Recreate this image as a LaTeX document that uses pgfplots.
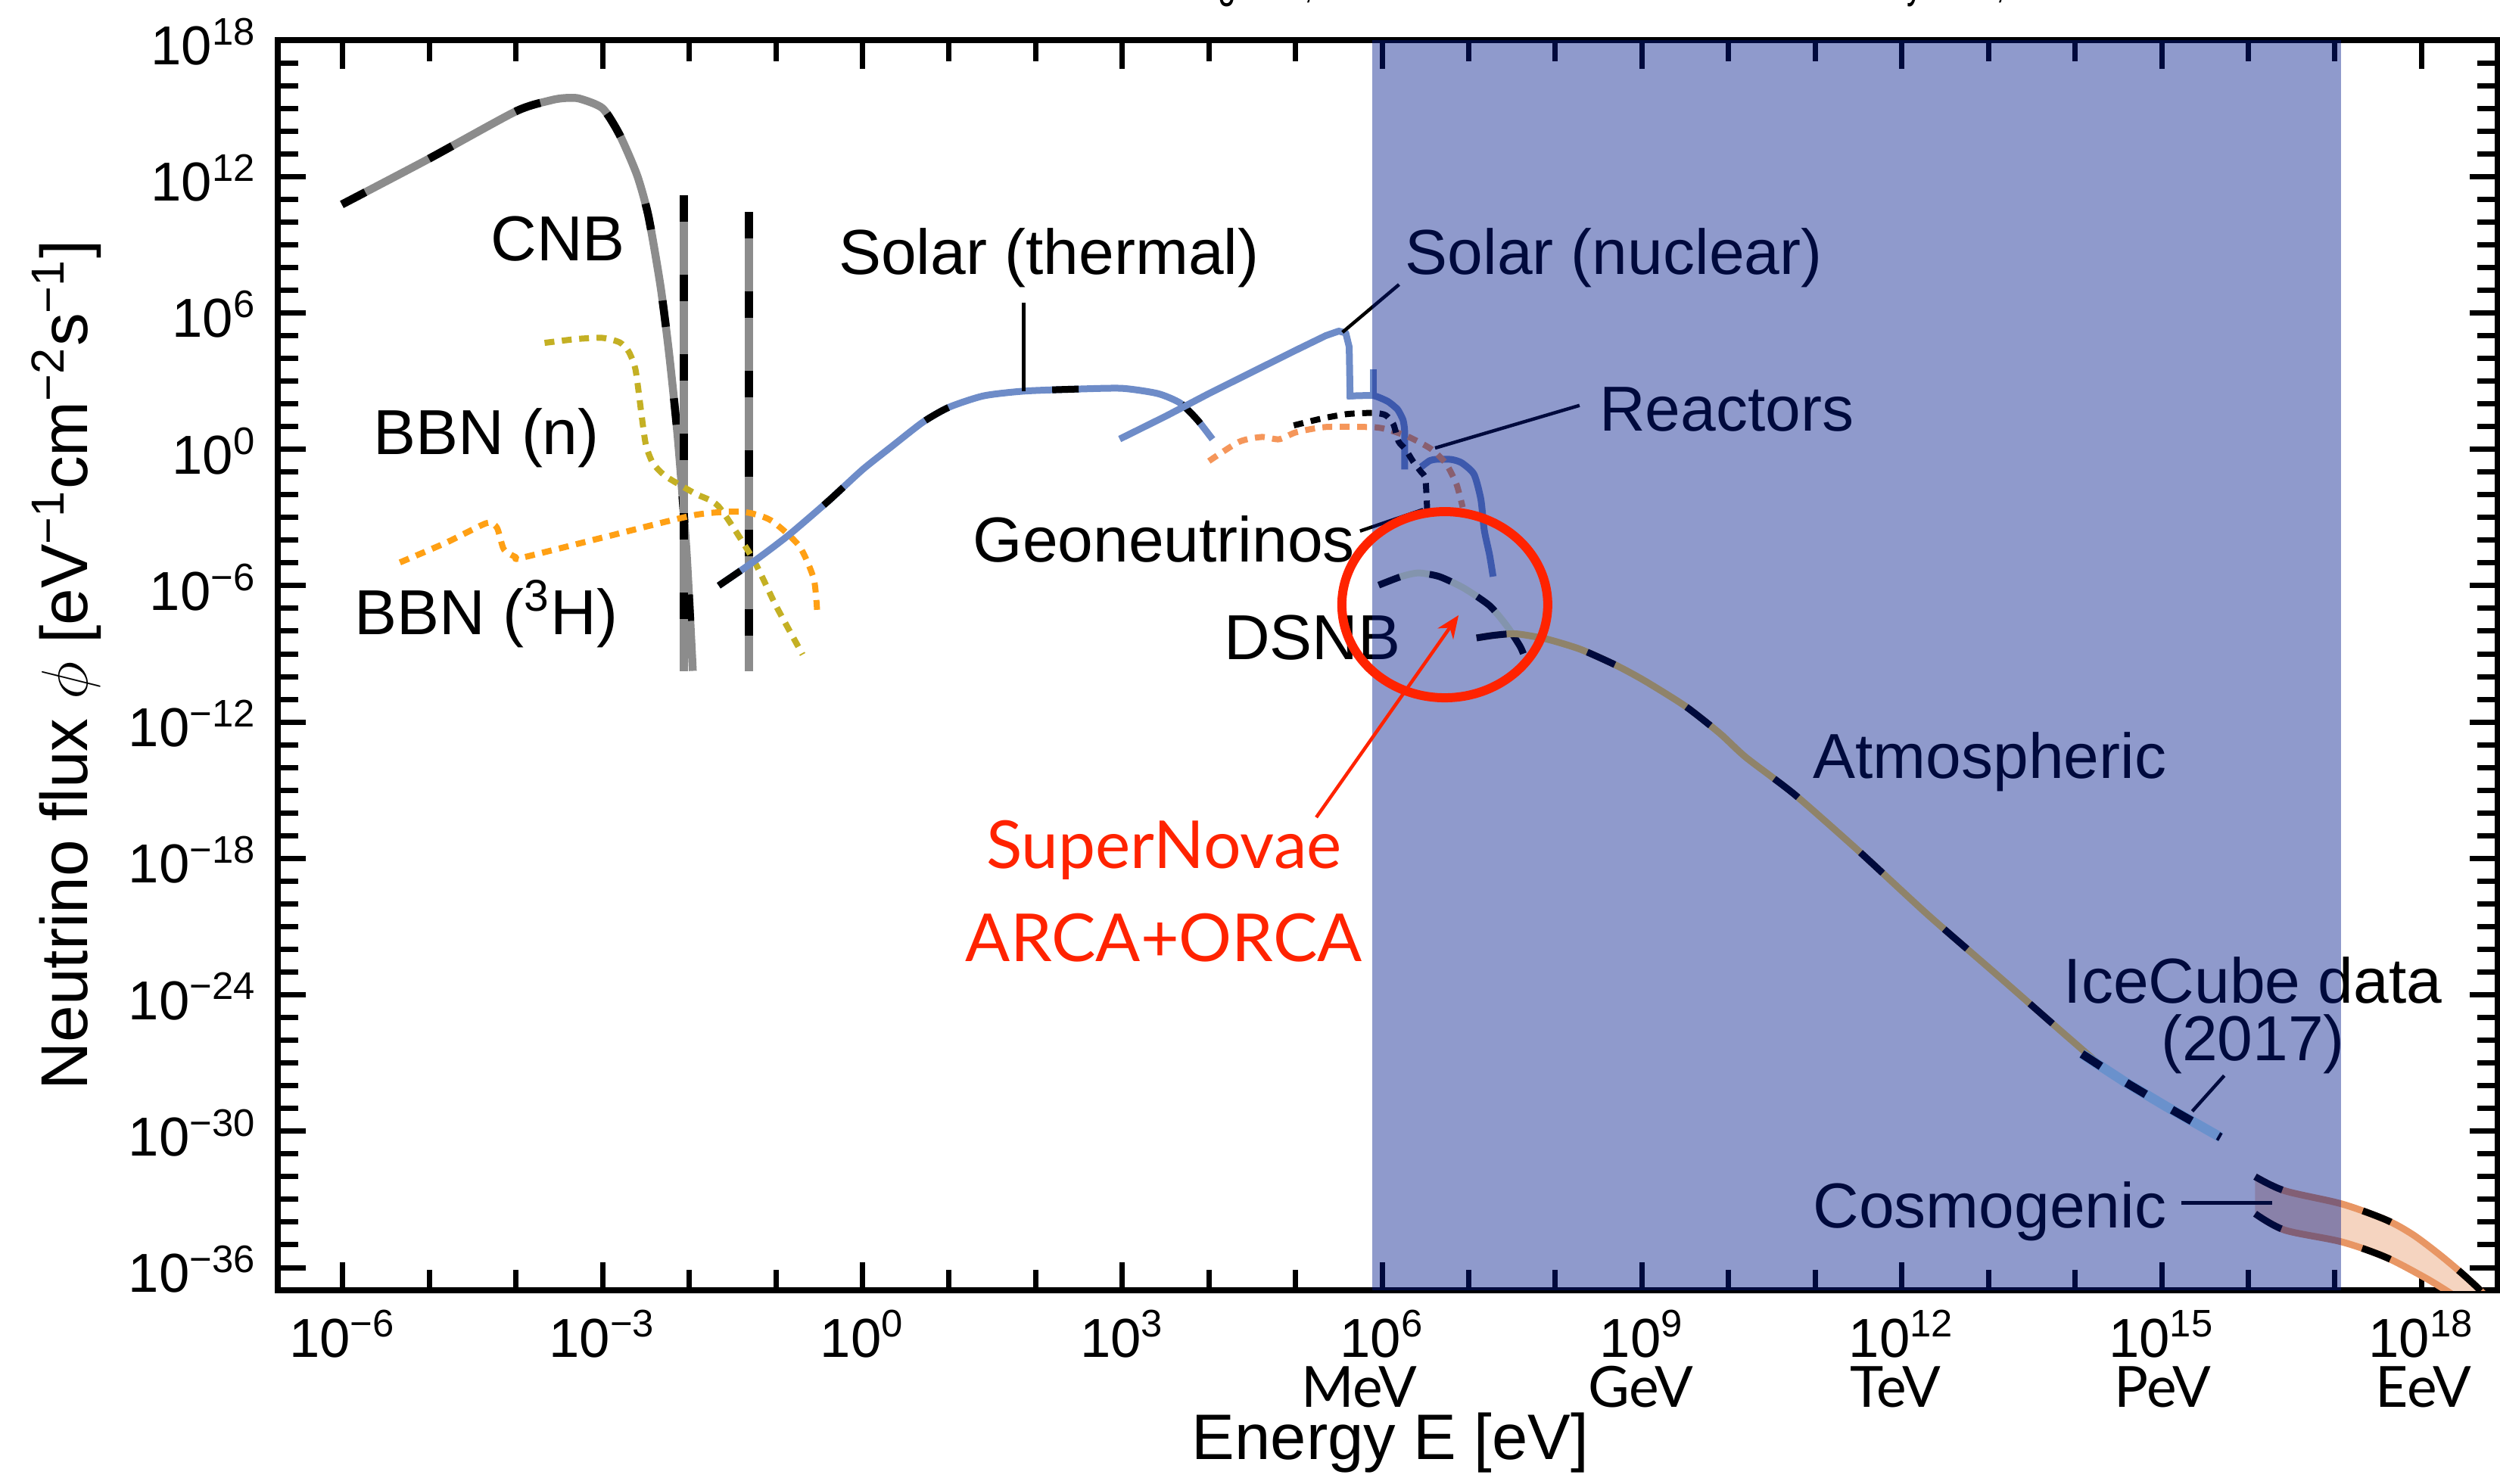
\documentclass[border=0pt]{standalone}
\usepackage{pgfplots}
\pgfplotsset{compat=1.18}
\usepackage{pgfplotstable}
\usepackage{fontspec}
\setmainfont{Liberation Sans}
\newfontfamily\lato{Lato}
\usetikzlibrary{arrows.meta}
\definecolor{cnbgray}{RGB}{140,140,140}
\definecolor{bbnn}{RGB}{196,176,36}
\definecolor{bbnh}{RGB}{255,160,20}
\definecolor{solar}{RGB}{110,140,200}
\definecolor{reac}{RGB}{245,150,90}
\definecolor{dsnb}{RGB}{235,245,200}
\definecolor{atmo}{RGB}{255,215,80}
\definecolor{icec}{RGB}{190,240,255}
\definecolor{cosedge}{RGB}{232,150,100}
\definecolor{cosfill}{RGB}{245,212,192}
\definecolor{ovl}{RGB}{0,25,140}
\definecolor{snred}{RGB}{255,35,0}
\newcommand{\lbl}{\fontsize{16.8}{19}\selectfont}
\newcommand{\tk}[1]{\mbox{10\textsuperscript{#1}}}

\pgfplotstableread{
x y
9.77e-7 5.89e10
9.77e-6 5.89e12
1e-4 7.41e14
2.51e-4 2.24e15
3.63e-4 2.82e15
5.37e-4 2.69e15
1e-3 1e15
1.58e-3 6.61e13
2.51e-3 1.10e12
3.39e-3 1.74e10
4.68e-3 1.38e7
5.89e-3 1.38e4
7.41e-3 2.75
9.33e-3 2.82e-5
1.10e-2 1.78e-10
}\cnbtab

\pgfplotstableread{
x y
2.14e-4 4.79e4
5.01e-4 7.08e4
1e-3 7.94e4
1.58e-3 5.01e4
2.0e-3 2.0e4
2.40e-3 3.16e3
2.82e-3 31.6
3.16e-3 1.58
3.80e-3 0.251
5.37e-3 6.46e-2
1.17e-2 1.12e-2
2.19e-2 3.02e-3
5.50e-2 1.41e-5
0.1 1.35e-7
0.204 9.33e-10
}\bbnntab

\pgfplotstableread{
x y
4.57e-6 1.05e-5
1.58e-5 7.94e-5
4.57e-5 5.62e-4
6.03e-5 3.55e-4
7.24e-5 3.98e-5
1e-4 1.78e-5
1.15e-4 1.66e-5
1.17e-3 1.51e-4
1.17e-2 1.29e-3
4.07e-2 1.78e-3
8.71e-2 7.59e-4
0.186 5.62e-5
0.275 1.91e-6
0.302 5.01e-8
}\bbnhtab

\pgfplotstableread{
x y
2.19e-2 1e-6
5.50e-2 1.12e-5
0.138 1.58e-4
0.398 5.01e-3
1 0.126
2.14 1.26
5.01 15.8
10 70.8
25.1 224
74.1 363
316 447
1000 479
2570 282
4680 107
7410 19.1
1.10e4 2.75
}\soltab

\pgfplotstableread{
x y
933 2.82
3160 28.2
1e4 282
3.16e4 2510
1e5 2.24e4
2.24e5 1e5
3.16e5 1.58e5
3.80e5 1.32e5
4.17e5 3.16e4
4.27e5 158
}\nucAtab

\pgfplotstableread{
x y
3.98e5 219
7.94e5 229
1.17e6 126
1.51e6 56.2
1.74e6 20.0
1.82e6 6.31
1.82e6 0.129
}\nucBtab

\pgfplotstableread{
x y
2.82e6 0.166
3.55e6 0.316
4.27e6 0.363
6.31e6 0.355
8.32e6 0.251
1.15e7 7.94e-2
1.38e7 6.31e-3
1.51e7 2.82e-4
1.74e7 2.24e-5
1.91e7 2.51e-6
}\nucCtab

\pgfplotstableread{
x y
1e4 0.302
2.24e4 2.14
4.07e4 3.47
6.46e4 2.75
1.02e5 5.62
2.24e5 9.55
7.94e5 9.33
1.20e6 7.08
2.04e6 3.47
3.72e6 1
5.50e6 0.224
7.24e6 2.82e-2
8.51e6 2.82e-3
}\reactab

\pgfplotstableread{
x y
9.55e4 11.2
2.0e5 22.4
3.98e5 35.5
7.94e5 39.8
1.10e6 31.6
1.35e6 12.6
1.55e6 2.19
1.86e6 1
2.29e6 0.282
2.82e6 0.1
3.16e6 5.01e-2
3.31e6 2.24e-3
}\geotab

\pgfplotstableread{
x y
9.12e5 1.05e-6
1.66e6 2.51e-6
2.63e6 3.63e-6
4.57e6 2.51e-6
8.71e6 7.94e-7
1.74e7 1.32e-7
2.75e7 1.70e-8
3.89e7 2.24e-9
4.27e7 1.02e-9
}\dsnbtab

\pgfplotstableread{
x y
1.23e7 5.01e-9
2.0e7 6.61e-9
3.55e7 7.59e-9
7.94e7 4.47e-9
1.95e8 1.58e-9
5.01e8 3.16e-10
1.07e9 6.61e-11
3.16e9 5.01e-12
7.94e9 3.16e-13
1.58e10 2.82e-14
5.75e10 6.61e-16
3.09e11 2.34e-18
2.0e12 3.31e-21
1.10e13 1.17e-23
6.76e13 2.69e-26
2.45e14 3.80e-28
}\atmotab

\pgfplotstableread{
x y
1.20e14 2.51e-27
3.72e14 1.51e-28
1.15e15 1.17e-29
4.79e15 5.37e-31
}\icetab

\pgfplotstableread{
x y
1.20e16 1e-32
2.63e16 2.40e-33
1.20e17 6.31e-34
3.89e17 1.26e-34
7.94e17 2.82e-35
1.58e18 3.98e-36
2.82e18 6.31e-37
4.37e18 1.38e-37
5.62e18 5.01e-38
}\costoptab

\pgfplotstableread{
x y
1.20e16 2.34e-34
2.63e16 4.47e-35
1.20e17 1.35e-35
3.89e17 2.82e-36
1.07e18 3.80e-37
1.86e18 1.07e-37
2.51e18 5.01e-38
}\cosbottab

\begin{document}
\begin{tikzpicture}
\begin{axis}[
  at={(0,0)}, anchor=south west,
  xmode=log, ymode=log,
  scale only axis, width=586.6pt, height=330.4pt,
  xmin=1.778e-7, xmax=7.59e18,
  ymin=1e-37, ymax=1e18,
  clip mode=individual,
  xtick={1e-6,1e-3,1,1e3,1e6,1e9,1e12,1e15,1e18},
  xticklabels={\tk{−6},\tk{−3},\tk{0},\tk{3},\tk{6},\tk{9},\tk{12},\tk{15},\tk{18}},
  minor xtick={1e-6,1e-5,1e-4,1e-3,1e-2,1e-1,1,1e1,1e2,1e3,1e4,1e5,1e6,1e7,1e8,1e9,1e10,1e11,1e12,1e13,1e14,1e15,1e16,1e17,1e18},
  ytick={1e-36,1e-30,1e-24,1e-18,1e-12,1e-6,1,1e6,1e12,1e18},
  yticklabels={\tk{−36},\tk{−30},\tk{−24},\tk{−18},\tk{−12},\tk{−6},\tk{0},\tk{6},\tk{12},\tk{18}},
  minor ytick={1e-37,1e-36,1e-35,1e-34,1e-33,1e-32,1e-31,1e-30,1e-29,1e-28,1e-27,1e-26,1e-25,1e-24,1e-23,1e-22,1e-21,1e-20,1e-19,1e-18,1e-17,1e-16,1e-15,1e-14,1e-13,1e-12,1e-11,1e-10,1e-9,1e-8,1e-7,1e-6,1e-5,1e-4,1e-3,1e-2,1e-1,1,1e1,1e2,1e3,1e4,1e5,1e6,1e7,1e8,1e9,1e10,1e11,1e12,1e13,1e14,1e15,1e16,1e17},
  tick align=inside,
  major tick length=7.5pt, minor tick length=5.5pt,
  every tick/.style={black, line width=1.4pt},
  every minor tick/.style={black, line width=1.4pt},
  axis line style={line width=1.6pt},
  xticklabel style={font=\fontsize{14.5}{16}\selectfont, anchor=base, yshift=-17.6pt, inner sep=0pt},
  yticklabel style={font=\fontsize{14.5}{16}\selectfont, anchor=base east, xshift=-5.4pt, yshift=-6.5pt, inner sep=0pt},
  every axis plot/.append style={line join=round, line cap=butt},
]

% Cosmogenic band
\addplot[fill=cosfill, draw=none] coordinates {
(1.20e16,1e-32) (2.63e16,2.40e-33) (1.20e17,6.31e-34) (3.89e17,1.26e-34) (7.94e17,2.82e-35) (1.58e18,3.98e-36) (2.82e18,6.31e-37) (4.37e18,1.38e-37) (5.62e18,5.01e-38)
(2.51e18,5.01e-38) (1.86e18,1.07e-37) (1.07e18,3.80e-37) (3.89e17,2.82e-36) (1.20e17,1.35e-35) (2.63e16,4.47e-35) (1.20e16,2.34e-34)
} -- cycle;
\addplot[cosedge, line width=1.8pt, smooth] table {\costoptab};
\addplot[cosedge, line width=1.8pt, smooth] table {\cosbottab};
\addplot[black, line width=1.8pt, smooth, dash pattern=on 8pt off 22pt] table {\costoptab};
\addplot[black, line width=1.8pt, smooth, dash pattern=on 8pt off 22pt] table {\cosbottab};

% CNB
\addplot[cnbgray, line width=2.1pt, smooth, tension=0.4] table {\cnbtab};
\addplot[black, line width=2.1pt, smooth, tension=0.4, dash pattern=on 7pt off 19pt] table {\cnbtab};
\addplot[cnbgray, line width=2.2pt] coordinates {(8.71e-3,1.48e11) (8.71e-3,1.78e-10)};
\addplot[black, line width=2.2pt, dash pattern=on 7pt off 14pt] coordinates {(8.71e-3,1.48e11) (8.71e-3,1.78e-10)};
\addplot[cnbgray, line width=2.2pt] coordinates {(4.90e-2,2.69e10) (4.90e-2,1.78e-10)};
\addplot[black, line width=2.2pt, dash pattern=on 7pt off 14pt] coordinates {(4.90e-2,2.69e10) (4.90e-2,1.78e-10)};

% BBN
\addplot[bbnn, line width=1.6pt, smooth, tension=0.4, dash pattern=on 2.6pt off 2pt] table {\bbnntab};
\addplot[bbnh, line width=1.6pt, smooth, tension=0.4, dash pattern=on 2.6pt off 2pt] table {\bbnhtab};

% Solar thermal
\addplot[solar, line width=1.8pt, smooth, tension=0.4] table {\soltab};
\addplot[black, line width=1.8pt, smooth, tension=0.4, dash pattern=on 7pt off 28pt] table {\soltab};

% Solar nuclear
\addplot[solar, line width=1.8pt] table {\nucAtab};
\addplot[solar, line width=1.8pt, smooth, tension=0.3] table {\nucBtab};
\addplot[solar, line width=1.8pt] coordinates {(7.94e5,3.24e3) (7.94e5,229)};
\addplot[solar, line width=1.8pt, smooth, tension=0.4] table {\nucCtab};

% Reactors, geoneutrinos
\addplot[reac, line width=1.6pt, smooth, tension=0.4, dash pattern=on 2.6pt off 2pt] table {\reactab};
\addplot[black, line width=1.6pt, smooth, tension=0.4, dash pattern=on 2.6pt off 2pt] table {\geotab};

% DSNB
\addplot[dsnb, line width=1.8pt, smooth, tension=0.4] table {\dsnbtab};
\addplot[black, line width=1.8pt, smooth, tension=0.4, dash pattern=on 6pt off 8pt] table {\dsnbtab};

% Atmospheric
\addplot[atmo, line width=1.8pt, smooth, tension=0.4] table {\atmotab};
\addplot[black, line width=1.8pt, smooth, tension=0.4, dash pattern=on 8pt off 22pt] table {\atmotab};

% IceCube
\addplot[icec, line width=2.6pt] table {\icetab};
\addplot[black, line width=2.2pt, dash pattern=on 6pt off 8pt] table {\icetab};

% labels
\node[font=\lbl] at (rel axis cs:0.1262,0.8408) {CNB};
\node[font=\lbl] at (rel axis cs:0.0939,0.6816) {BBN (n)};
\node[font=\lbl] at (rel axis cs:0.0939,0.5412) {BBN (\textsuperscript{3}H)};
\node[font=\lbl] at (rel axis cs:0.3474,0.8257) {Solar (thermal)};
\node[font=\lbl] at (rel axis cs:0.6018,0.8257) {Solar (nuclear)};
\node[font=\lbl] at (rel axis cs:0.6526,0.7046) {Reactors};
\node[font=\lbl] at (rel axis cs:0.3992,0.6011) {Geoneutrinos};
\node[font=\lbl] at (rel axis cs:0.4660,0.5220) {DSNB};
\node[font=\lbl] at (rel axis cs:0.7712,0.4225) {Atmospheric};
\node[font=\lbl] at (rel axis cs:0.8897,0.2479) {IceCube data};
\node[font=\lbl] at (rel axis cs:0.8897,0.1967) {(2017)};
\node[font=\lbl] at (rel axis cs:0.7712,0.0630) {Cosmogenic};

\draw[line width=0.9pt] (rel axis cs:0.3360,0.7897) -- (rel axis cs:0.3360,0.7194);
\draw[line width=0.9pt] (rel axis cs:0.5051,0.8045) -- (rel axis cs:0.4796,0.7663);
\draw[line width=0.9pt] (rel axis cs:0.5864,0.7078) -- (rel axis cs:0.5213,0.6737);
\draw[line width=0.9pt] (rel axis cs:0.4875,0.6073) -- (rel axis cs:0.5159,0.6245);
\draw[line width=0.9pt] (rel axis cs:0.8768,0.1717) -- (rel axis cs:0.8624,0.1432);
\draw[line width=0.9pt] (rel axis cs:0.8576,0.0698) -- (rel axis cs:0.8984,0.0698);

% shaded detector range
\fill[ovl, fill opacity=0.44] (axis cs:7.76e5,1e-37) rectangle (axis cs:1.175e17,1e18);

% red annotations
\draw[snred, line width=2.4pt] (rel axis cs:0.5257,0.5484) ellipse [x radius=27.2pt, y radius=24.6pt];
\draw[snred, line width=0.9pt, -{Stealth[length=6pt,width=5pt]}] (rel axis cs:0.4678,0.3783) -- (rel axis cs:0.5319,0.5400);
\node[snred, font=\lato\fontsize{17.5}{20}\selectfont] at (rel axis cs:0.3992,0.3523) {SuperNovae};
\node[snred, font=\lato\fontsize{17.5}{20}\selectfont] at (rel axis cs:0.3992,0.2821) {ARCA+ORCA};

% unit labels
\node[font=\lato\fontsize{15}{17}\selectfont] at (rel axis cs:0.4872,0) [yshift=-25.6pt] {MeV};
\node[font=\lato\fontsize{15}{17}\selectfont] at (rel axis cs:0.6140,0) [yshift=-25.6pt] {GeV};
\node[font=\lato\fontsize{15}{17}\selectfont] at (rel axis cs:0.7286,0) [yshift=-25.6pt] {TeV};
\node[font=\lato\fontsize{15}{17}\selectfont] at (rel axis cs:0.8492,0) [yshift=-25.6pt] {PeV};
\node[font=\lato\fontsize{15}{17}\selectfont] at (rel axis cs:0.9666,0) [yshift=-25.6pt] {EeV};

% axis titles
\node[font=\fontsize{17}{19}\selectfont] at (rel axis cs:0.5012,0) [yshift=-40.2pt] {Energy E [eV]};
\node[xshift=-55.8pt, rotate=90, font=\fontsize{17.5}{19}\selectfont] at (rel axis cs:0,0.5) {Neutrino flux $\phi$ [eV\textsuperscript{−1}cm\textsuperscript{−2}s\textsuperscript{−1}]};

% cut-off header
\node[font=\fontsize{13}{15}\selectfont, anchor=base] at (rel axis cs:0.636,1) [yshift=11.5pt] {\scalebox{0.66}[1]{E. Vitagliano,I. Tamborra and G. Raffelt ``Rev. Mod. Phys. 92, December 2020''}};
\end{axis}
\pgfresetboundingbox
\path[use as bounding box] (-73.4pt,-51pt) rectangle (587.2pt,341pt);
\end{tikzpicture}
\end{document}
